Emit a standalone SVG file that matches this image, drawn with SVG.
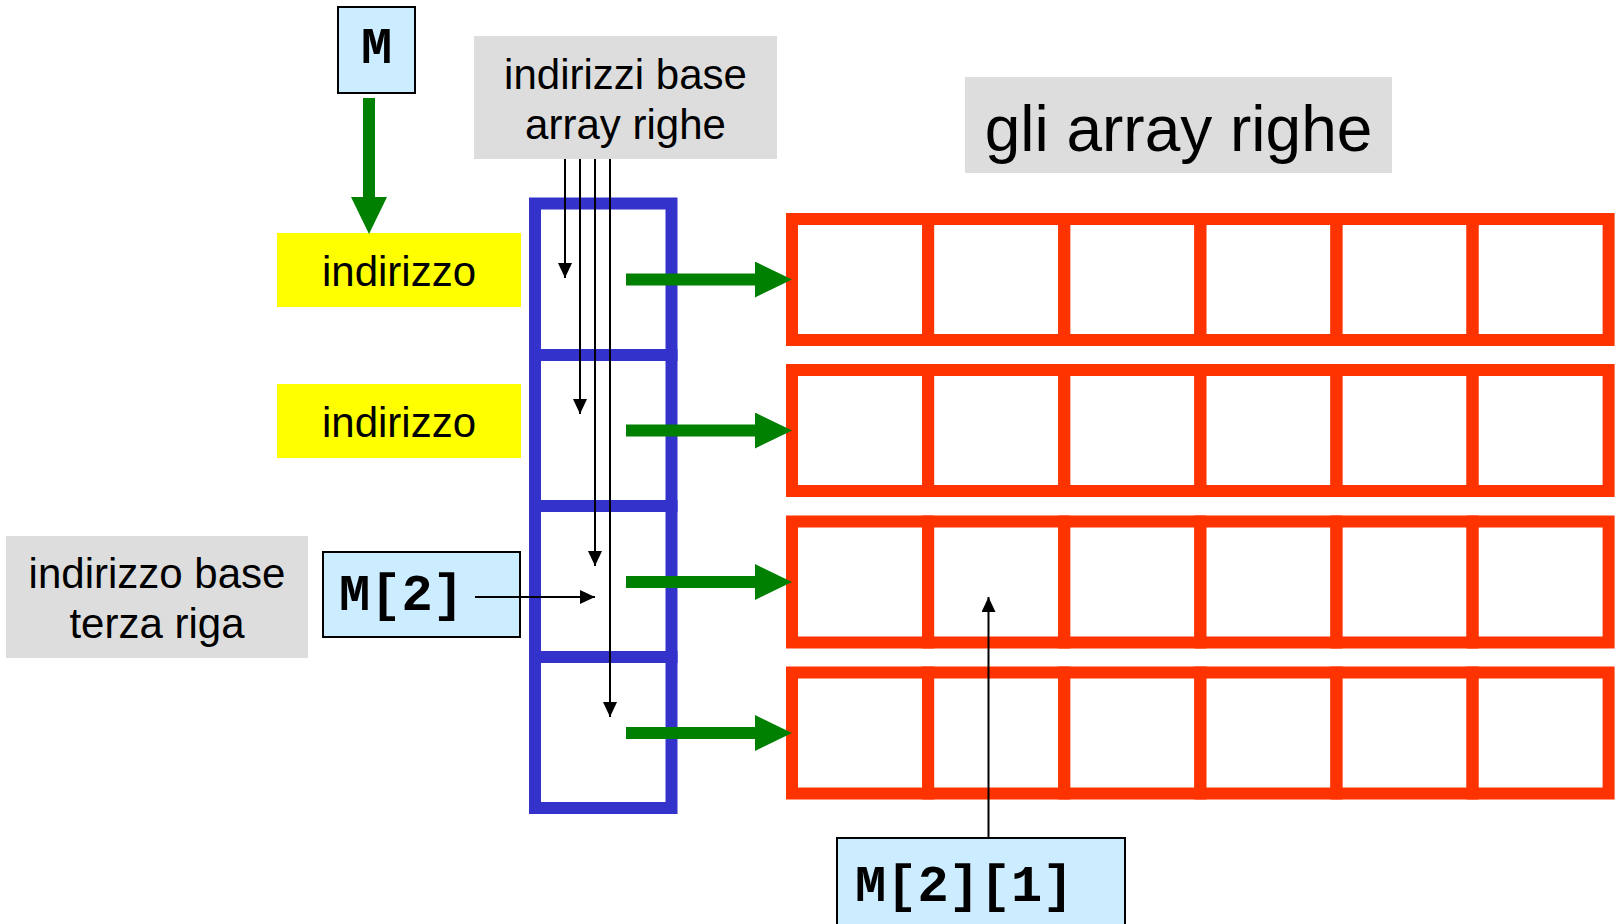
<svg xmlns="http://www.w3.org/2000/svg" width="1618" height="924" viewBox="0 0 1618 924">
<style>
.sans{font-family:"Liberation Sans",Arial,sans-serif;fill:#000;text-anchor:middle}
.mono{font-family:"Liberation Mono","Courier New",monospace;font-weight:bold;fill:#000}
.gray{fill:#DDDDDD}
.yellow{fill:#FFFF00}
.blue{fill:#CCECFF;stroke:#000;stroke-width:2}
.col{fill:none;stroke:#3333CC;stroke-width:12}
.cell{fill:none;stroke:#FF3300;stroke-width:12}
.garrow{stroke:#008000;stroke-width:12;fill:none}
.thin{stroke:#000;stroke-width:2;fill:none}
</style>
<defs>
<marker id="gh" viewBox="0 0 37 36" refX="2" refY="18" markerWidth="37" markerHeight="36" markerUnits="userSpaceOnUse" orient="auto"><path d="M0,0 L37,18 L0,36 Z" fill="#008000"/></marker>
<marker id="bh" viewBox="0 0 15 14" refX="15" refY="7" markerWidth="15" markerHeight="14" markerUnits="userSpaceOnUse" orient="auto"><path d="M0,0 L15,7 L0,14 Z" fill="#000"/></marker>
</defs>

<g id="label-indirizzi-base">
<rect class="gray" x="474" y="36" width="303" height="123"/>
<text class="sans" x="625.5" y="89" font-size="42">indirizzi base</text>
<text class="sans" x="625.5" y="139" font-size="42">array righe</text>
</g>

<g id="label-gli-array">
<rect class="gray" x="965" y="77" width="427" height="96"/>
<text class="sans" x="1178.5" y="151" font-size="64">gli array righe</text>
</g>

<g id="label-terza-riga">
<rect class="gray" x="6" y="536" width="302" height="122"/>
<text class="sans" x="157" y="588" font-size="42">indirizzo base</text>
<text class="sans" x="157" y="638" font-size="42">terza riga</text>
</g>

<g id="node-M">
<rect class="blue" x="338" y="7" width="77" height="86"/>
<text class="mono" x="376.5" y="63" font-size="52" text-anchor="middle">M</text>
</g>

<g id="node-indirizzo1">
<rect class="yellow" x="277" y="233" width="244" height="74"/>
<text class="sans" x="399" y="286" font-size="42">indirizzo</text>
</g>

<g id="node-indirizzo2">
<rect class="yellow" x="277" y="384" width="244" height="74"/>
<text class="sans" x="399" y="437" font-size="42">indirizzo</text>
</g>

<g id="node-M2">
<rect class="blue" x="323" y="552" width="197" height="85"/>
<text class="mono" x="339" y="610" font-size="52">M[2]</text>
</g>

<g id="node-M21">
<rect class="blue" x="837" y="838" width="288" height="90"/>
<text class="mono" x="855" y="901" font-size="52">M[2][1]</text>
</g>

<g id="pointer-column">
<rect class="col" x="535" y="203.5" width="136.5" height="151.5"/>
<rect class="col" x="535" y="355" width="136.5" height="151"/>
<rect class="col" x="535" y="506" width="136.5" height="151"/>
<rect class="col" x="535" y="657" width="136.5" height="151"/>
</g>

<g id="row-arrays">
<g id="row0">
<rect class="cell" x="792" y="219" width="136.1" height="121"/>
<rect class="cell" x="928.1" y="219" width="136.1" height="121"/>
<rect class="cell" x="1064.2" y="219" width="136.1" height="121"/>
<rect class="cell" x="1200.3" y="219" width="136.1" height="121"/>
<rect class="cell" x="1336.4" y="219" width="136.1" height="121"/>
<rect class="cell" x="1472.5" y="219" width="136.1" height="121"/>
</g>
<g id="row1">
<rect class="cell" x="792" y="370" width="136.1" height="121"/>
<rect class="cell" x="928.1" y="370" width="136.1" height="121"/>
<rect class="cell" x="1064.2" y="370" width="136.1" height="121"/>
<rect class="cell" x="1200.3" y="370" width="136.1" height="121"/>
<rect class="cell" x="1336.4" y="370" width="136.1" height="121"/>
<rect class="cell" x="1472.5" y="370" width="136.1" height="121"/>
</g>
<g id="row2">
<rect class="cell" x="792" y="521.5" width="136.1" height="121"/>
<rect class="cell" x="928.1" y="521.5" width="136.1" height="121"/>
<rect class="cell" x="1064.2" y="521.5" width="136.1" height="121"/>
<rect class="cell" x="1200.3" y="521.5" width="136.1" height="121"/>
<rect class="cell" x="1336.4" y="521.5" width="136.1" height="121"/>
<rect class="cell" x="1472.5" y="521.5" width="136.1" height="121"/>
</g>
<g id="row3">
<rect class="cell" x="792" y="672.5" width="136.1" height="121"/>
<rect class="cell" x="928.1" y="672.5" width="136.1" height="121"/>
<rect class="cell" x="1064.2" y="672.5" width="136.1" height="121"/>
<rect class="cell" x="1200.3" y="672.5" width="136.1" height="121"/>
<rect class="cell" x="1336.4" y="672.5" width="136.1" height="121"/>
<rect class="cell" x="1472.5" y="672.5" width="136.1" height="121"/>
</g>
</g>

<g id="connectors">
<line class="garrow" x1="369" y1="98" x2="369" y2="199" marker-end="url(#gh)"/>
<line class="garrow" x1="626" y1="279.5" x2="757" y2="279.5" marker-end="url(#gh)"/>
<line class="garrow" x1="626" y1="430.5" x2="757" y2="430.5" marker-end="url(#gh)"/>
<line class="garrow" x1="626" y1="582" x2="757" y2="582" marker-end="url(#gh)"/>
<line class="garrow" x1="626" y1="733" x2="757" y2="733" marker-end="url(#gh)"/>
<line class="thin" x1="565" y1="159" x2="565" y2="278" marker-end="url(#bh)"/>
<line class="thin" x1="580" y1="159" x2="580" y2="414" marker-end="url(#bh)"/>
<line class="thin" x1="595" y1="159" x2="595" y2="566" marker-end="url(#bh)"/>
<line class="thin" x1="610" y1="159" x2="610" y2="717" marker-end="url(#bh)"/>
<line class="thin" x1="475" y1="597" x2="595" y2="597" marker-end="url(#bh)"/>
<line class="thin" x1="988.5" y1="838" x2="988.5" y2="597" marker-end="url(#bh)"/>
</g>
</svg>
